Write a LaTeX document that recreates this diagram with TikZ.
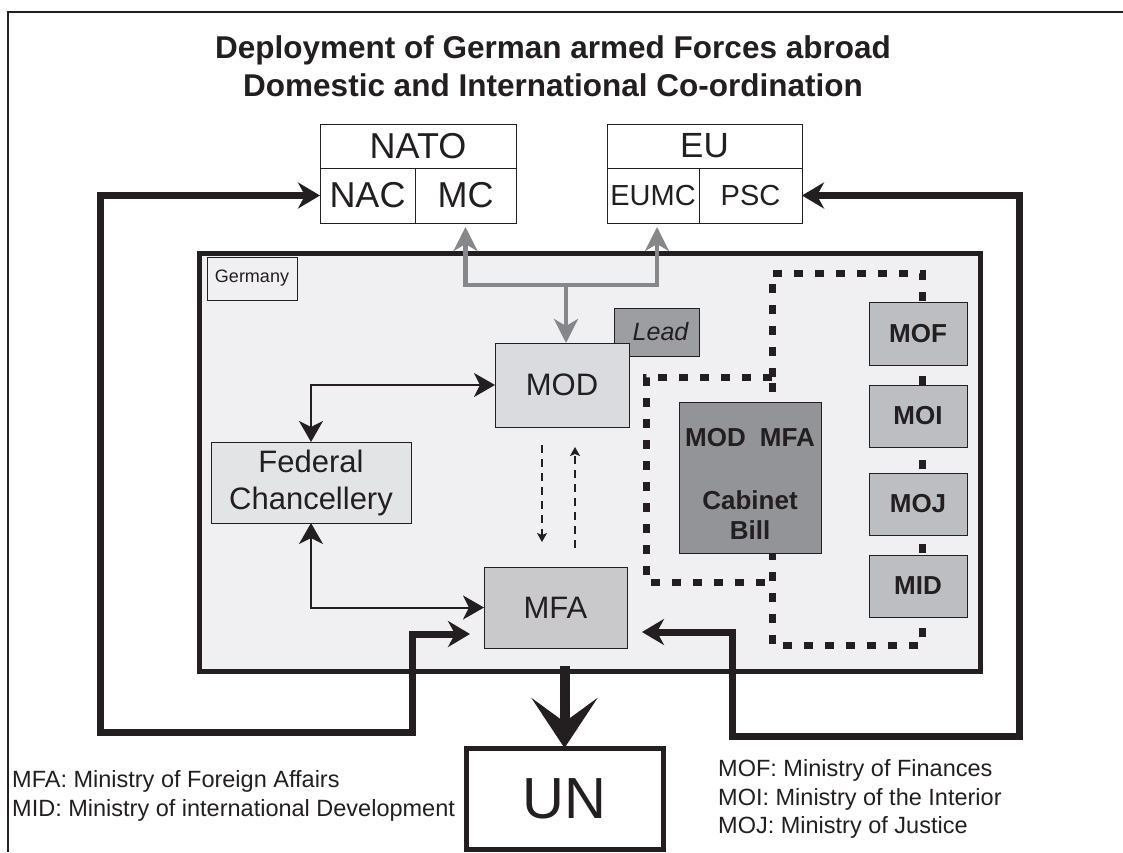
\documentclass[tikz,border=0pt]{standalone}
\usepackage{fontspec}
\setmainfont{Liberation Sans}
\usetikzlibrary{arrows.meta}

\definecolor{germfill}{RGB}{240,240,242}
\definecolor{lightbox}{RGB}{218,219,222}
\definecolor{minbox}{RGB}{189,190,193}
\definecolor{leadfill}{RGB}{157,158,162}
\definecolor{cabfill}{RGB}{147,148,152}
\definecolor{grayarrow}{RGB}{133,135,139}
\definecolor{ink}{RGB}{35,31,32}

\tikzset{
  box/.style={draw=ink,line width=1pt,inner sep=0pt,outer sep=0pt,text=ink},
  orgbox/.style={box,fill=white},
  lightnode/.style={box,fill=lightbox,font=\fontsize{31}{37}\selectfont,align=center},
  minnode/.style={box,fill=minbox,minimum width=98pt,minimum height=62pt,font=\bfseries\fontsize{26}{30}\selectfont},
  thinarrow/.style={draw=ink,line width=2pt,{Stealth[length=21pt,width=24pt,inset=6pt]}-{Stealth[length=21pt,width=24pt,inset=6pt]}},
  thickarrow/.style={draw=ink,line width=7pt,{Stealth[length=22pt,width=26pt,inset=7pt]}-{Stealth[length=22pt,width=26pt,inset=7pt]}},
  grayline/.style={draw=grayarrow,line width=4.5pt},
  dasharrow/.style={draw=ink,line width=1.5pt,dash pattern=on 8pt off 6pt,-{Stealth[length=9pt,width=10pt,inset=2pt]}},
  dotline/.style={draw=ink,line width=7pt,dash pattern=on 9pt off 12pt},
  legend/.style={anchor=west,inner sep=0pt,align=left,text=ink,font=\fontsize{23.5}{28.5}\selectfont}
}

\begin{document}
\begin{tikzpicture}[x=1pt,y=1pt,yscale=-1]
\useasboundingbox (0,0) rectangle (1123,852);

%Straight Lines: outer frame
\draw[ink,line width=2pt] (8,852) -- (8,12) -- (1123,12);

% Text Node: title
\node[text=ink,align=center,font=\bfseries\fontsize{31.5}{38}\selectfont] (title) at (553,66) {Deployment of German armed Forces abroad\\Domestic and International Co-ordination};

%Shape: NATO and EU
\node[orgbox,minimum width=196pt,minimum height=44pt,font=\fontsize{36}{40}\selectfont] (nato) at (418,146) {NATO};
\node[orgbox,minimum width=95pt,minimum height=55pt,font=\fontsize{36}{40}\selectfont] (nac) at (367.5,195.5) {NAC};
\node[orgbox,minimum width=101pt,minimum height=55pt,font=\fontsize{36}{40}\selectfont] (mc) at (465.5,195.5) {MC};
\node[orgbox,minimum width=195pt,minimum height=44pt,font=\fontsize{35}{40}\selectfont] (eu) at (704.5,146) {EU};
\node[orgbox,minimum width=92pt,minimum height=55pt,font=\fontsize{29}{34}\selectfont] (eumc) at (653,195.5) {EUMC};
\node[orgbox,minimum width=103pt,minimum height=55pt,font=\fontsize{29}{34}\selectfont] (psc) at (750.5,195.5) {PSC};

%Shape: Germany frame
\draw[ink,line width=5pt,fill=germfill] (199.5,253.5) rectangle (980.5,671.5);
\node[box,fill=germfill,minimum width=90pt,minimum height=43pt,font=\fontsize{18}{22}\selectfont] (germany) at (252,278.5) {Germany};

%Dotted Lines: cabinet circulation
\draw[dotline] (772,377) -- (772,273) -- (922,273) -- (922,645) -- (772,645) -- (772,377);
\draw[dotline] (772,377) -- (646,377) -- (646,582) -- (772,582);

%Shape: ministries
\node[box,fill=leadfill,minimum width=85pt,minimum height=48pt,font=\itshape\fontsize{25}{30}\selectfont] (lead) at (656.5,332) {\hspace{8pt}Lead};
\node[lightnode,minimum width=134pt,minimum height=84pt] (mod) at (562,385) {MOD};
\node[lightnode,fill=lightbox!75!white,minimum width=200pt,minimum height=81pt] (chancellery) at (311,482.5) {Federal\\Chancellery};
\node[lightnode,fill=lightbox!92!black,minimum width=143pt,minimum height=81pt] (mfa) at (555.5,607.5) {MFA};
\node[box,fill=cabfill,minimum width=142pt,minimum height=151pt] (cabinet) at (750,477.5) {};
\node[text=ink,align=center,font=\bfseries\fontsize{26}{30}\selectfont] (bill) at ([yshift=6pt]cabinet.center) {MOD\hspace{14pt}MFA\\[33pt]Cabinet\\Bill};
\node[minnode,minimum height=63pt] (mof) at (918,333.5) {MOF};
\node[minnode] (moi) at (918,416) {MOI};
\node[minnode] (moj) at (918,504) {MOJ};
\node[minnode] (mid) at (918,586) {MID};

%Shape: UN
\node[box,fill=white,line width=5pt,minimum width=197pt,minimum height=101pt,font=\fontsize{58}{62}\selectfont] (un) at (564.5,798.5) {UN};

%Arrows: gray international links
\coordinate (split) at (566,285);
\draw[grayline,{Stealth[length=24pt,width=24pt,inset=7pt]}-{Stealth[length=24pt,width=24pt,inset=7pt]}] ([yshift=4pt]mc.south) |- (split) -| ([xshift=4pt,yshift=4pt]eumc.south);
\draw[grayline,-{Stealth[length=24pt,width=24pt,inset=7pt]}] (split) -- (split |- mod.north);

%Arrows: chancellery links
\draw[thinarrow] (mod.west) -| (chancellery.north);
\draw[thinarrow] (chancellery.south) |- (mfa.west);

%Arrows: MOD / MFA dashed
\draw[dasharrow] ([xshift=-20pt,yshift=18pt]mod.south) -- ([xshift=-13.5pt,yshift=-25pt]mfa.north);
\draw[dasharrow] ([xshift=19.5pt,yshift=-19pt]mfa.north) -- ([xshift=13pt,yshift=20pt]mod.south);

%Arrows: thick outer loops
\coordinate (lloop1) at (100,732);
\coordinate (lloop2) at (412,732);
\coordinate (rloop1) at (1019,736);
\coordinate (rloop2) at (732,736);
\draw[thickarrow] (nac.west) -| (lloop1) -- (lloop2) |- ([xshift=-14pt,yshift=26.5pt]mfa.west);
\draw[thickarrow] (psc.east) -| (rloop1) -- (rloop2) |- ([xshift=15pt,yshift=24.5pt]mfa.east);

%Arrow: MFA to UN
\draw[ink,line width=10pt,-{Stealth[length=50pt,width=66pt,inset=24pt]}] ([yshift=18pt]mfa.south -| un.north) -- (un.north);

% Text Node: legends
\node[legend] (legleft) at (12,796) {MFA: Ministry of Foreign Affairs\\MID: Ministry of international Development};
\node[legend] (legright) at (718,799) {MOF: Ministry of Finances\\MOI: Ministry of the Interior\\MOJ: Ministry of Justice};

\end{tikzpicture}
\end{document}
